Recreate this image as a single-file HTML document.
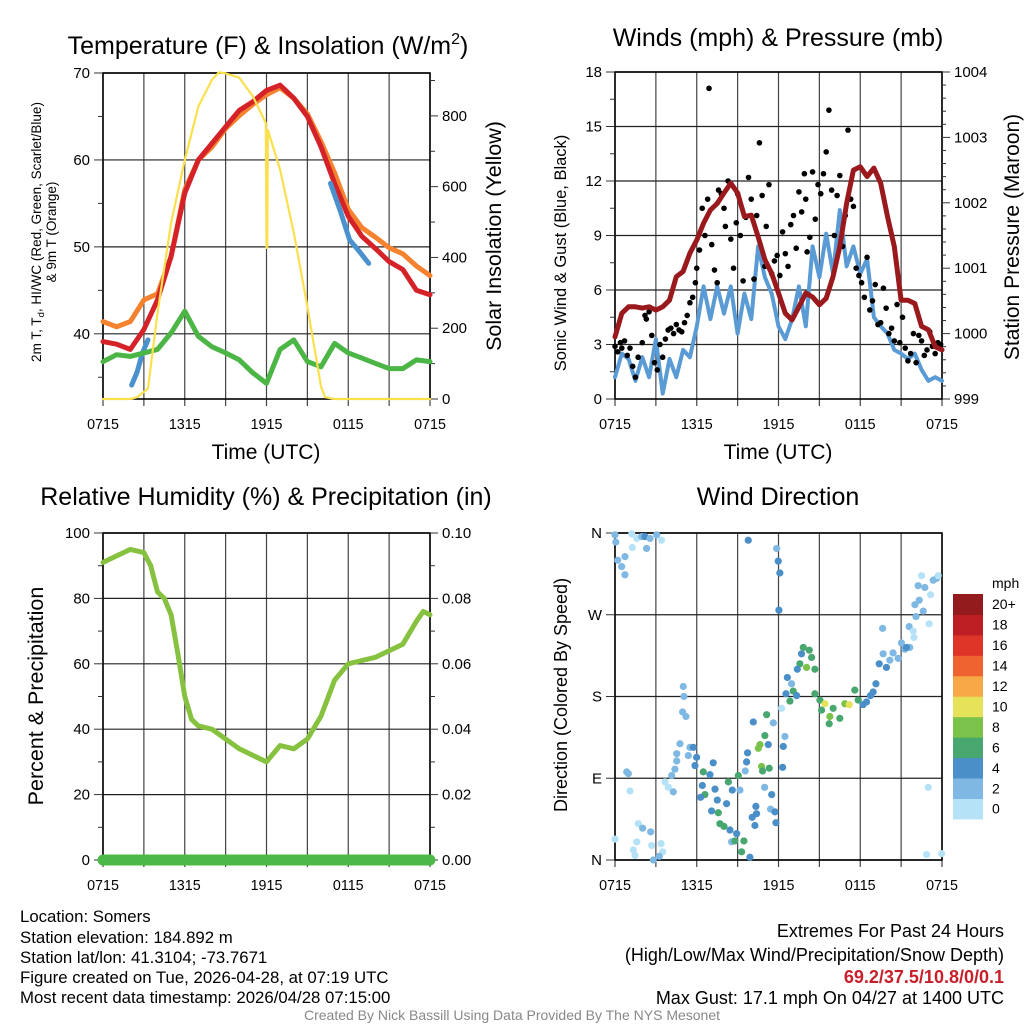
<!DOCTYPE html>
<html><head><meta charset="utf-8"><style>
body{margin:0;background:#fff;}
svg{display:block;font-family:"Liberation Sans",sans-serif;}
</style></head><body>
<svg id="c" width="1024" height="1024" viewBox="0 0 1024 1024">
<text x="268" y="54" font-size="25" text-anchor="middle">Temperature (F) &amp; Insolation (W/m<tspan dy="-10" font-size="16">2</tspan><tspan dy="10">)</tspan></text>
<text x="778" y="46" font-size="25" text-anchor="middle">Winds (mph) &amp; Pressure (mb)</text>
<text x="266" y="505" font-size="25" text-anchor="middle">Relative Humidity (%) &amp; Precipitation (in)</text>
<text x="778" y="505" font-size="25" text-anchor="middle">Wind Direction</text>
<text x="266" y="459" font-size="21" text-anchor="middle">Time (UTC)</text>
<text x="778" y="459" font-size="21" text-anchor="middle">Time (UTC)</text>
<text transform="translate(41,232) rotate(-90)" font-size="13.5" text-anchor="middle">2m T, T<tspan dy="3" font-size="9.5">d</tspan><tspan dy="-3">, HI/WC (Red, Green, Scarlet/Blue)</tspan></text>
<text transform="translate(56,232) rotate(-90)" font-size="13.5" text-anchor="middle">&amp; 9m T (Orange)</text>
<text transform="translate(501,236) rotate(-90)" font-size="21.5" text-anchor="middle">Solar Insolation (Yellow)</text>
<text transform="translate(566,253) rotate(-90)" font-size="16.5" text-anchor="middle">Sonic Wind &amp; Gust (Blue, Black)</text>
<text transform="translate(1019,237) rotate(-90)" font-size="21" text-anchor="middle">Station Pressure (Maroon)</text>
<text transform="translate(43,696) rotate(-90)" font-size="21.5" text-anchor="middle">Percent &amp; Precipitation</text>
<text transform="translate(567,695) rotate(-90)" font-size="18" text-anchor="middle">Direction (Colored By Speed)</text>
<g font-size="16.8">
<text x="20" y="922">Location: Somers</text>
<text x="20" y="943">Station elevation: 184.892 m</text>
<text x="20" y="963">Station lat/lon: 41.3104; -73.7671</text>
<text x="20" y="983">Figure created on Tue, 2026-04-28, at 07:19 UTC</text>
<text x="20" y="1003">Most recent data timestamp: 2026/04/28 07:15:00</text>
</g>
<g font-size="18" text-anchor="end">
<text x="1004" y="937">Extremes For Past 24 Hours</text>
<text x="1004" y="961">(High/Low/Max Wind/Precipitation/Snow Depth)</text>
<text x="1004" y="983" fill="#c8202a" font-weight="bold">69.2/37.5/10.8/0/0.1</text>
<text x="1004" y="1004">Max Gust: 17.1 mph On 04/27 at 1400 UTC</text>
</g>
<text x="512" y="1020" font-size="14" fill="#888" text-anchor="middle">Created By Nick Bassill Using Data Provided By The NYS Mesonet</text>
</svg>
<script>
// ---- data ----
const hourTicks=["0715","1315","1915","0115","0715"];
const tempHours=[0,1,2,3,4,5,6,7,8,9,10,11,12,13,14,15,16,17,18,19,20,21,22,23,24];
const temp2m=[39.1,38.8,38.2,40.5,43.9,48.9,56.2,60,61.9,63.8,65.7,66.7,68,68.6,67.1,65,61.5,57.3,53.5,51.2,49.8,48.3,47.4,45,44.5];
const temp9m=[41.4,40.8,41.4,43.9,44.6,48.9,56.6,60,61.5,63.6,65.1,66.4,67.5,68.3,67.1,65.3,62.1,58.5,54.3,52.2,51.1,49.9,49.2,47.8,46.7];
const dewpt=[36.8,37.6,37.4,37.8,38.2,40.1,42.6,39.7,38.5,37.8,37.0,35.5,34.3,38.2,39.3,36.8,36.2,38.9,37.8,37.2,36.6,36.0,36.0,37.0,36.8];
const wcHoursA=[2.1,2.5,2.9,3.3];
const wcA=[34.1,35.6,37.8,39.3];
const wcHoursB=[16.7,17.4,18.1,18.8,19.5];
const wcB=[57.3,54.2,50.8,49.5,48.1];
const insolHours=[0,2,2.5,3,3.3,4,5,6,7,8,8.5,9,10,11,11.95,12.0,12.05,12.1,13,14,15,16,16.3,17,24];
const insol=[0,0,5,20,30,243,498,676,827,902,923,920,908,855,780,427,427,760,648,470,261,35,5,0,0];
const halfHours=[0,0.5,1,1.5,2,2.5,3,3.5,4,4.5,5,5.5,6,6.5,7,7.5,8,8.5,9,9.5,10,10.5,11,11.5,12,12.5,13,13.5,14,14.5,15,15.5,16,16.5,17,17.5,18,18.5,19,19.5,20,20.5,21,21.5,22,22.5,23,23.5,24];
const windSpeed=[1.2,2.5,2.2,1.0,2.3,1.2,3.3,0.3,2.2,1.2,2.7,2.3,4.0,6.2,4.4,6.2,4.7,6.2,3.6,5.8,4.4,8.4,6.7,5.8,4.0,3.3,4.4,6.2,4.0,8.4,6.7,9.1,6.9,10.4,7.3,8.4,6.9,7.7,4.5,4.0,3.6,2.7,2.5,2.2,2.5,1.6,1.0,1.2,1.0];
const pressure=[999.95,1000.31,1000.41,1000.41,1000.39,1000.41,1000.36,1000.41,1000.51,1000.87,1000.95,1001.23,1001.43,1001.69,1001.89,1001.99,1002.15,1002.30,1002.15,1001.79,1001.81,1001.48,1001.13,1000.92,1000.62,1000.31,1000.21,1000.41,1000.62,1000.56,1000.44,1000.54,1000.87,1001.33,1001.99,1002.50,1002.55,1002.40,1002.53,1002.30,1001.79,1001.33,1000.51,1000.51,1000.46,1000.11,1000.06,999.80,999.75];
const gustHours=[0.0,0.2,0.4,0.5,0.7,0.9,1.1,1.3,1.5,1.7,2.0,2.2,2.3,2.5,2.7,2.9,3.1,3.3,3.5,3.7,3.9,4.1,4.3,4.5,4.7,4.9,5.1,5.3,5.5,5.7,5.9,6.0,6.2,6.4,6.6,6.8,6.9,7.1,7.3,7.5,7.6,7.8,8.0,8.1,8.3,8.5,8.7,8.9,9.0,9.2,9.4,9.6,9.8,10.0,10.2,10.4,10.6,10.8,11.0,11.1,11.3,11.5,11.7,11.9,12.1,12.3,12.5,12.7,12.9,13.1,13.3,13.5,13.7,13.9,14.0,14.1,14.3,14.5,14.7,14.9,15.1,15.3,15.5,15.7,15.9,16.1,16.3,16.5,16.7,16.9,17.1,17.3,17.5,17.7,17.9,18.1,18.3,18.5,18.7,18.9,19.1,19.3,19.5,19.7,19.9,20.1,20.3,20.5,20.7,20.9,21.1,21.3,21.5,21.7,21.9,22.1,22.3,22.5,22.7,22.9,23.1,23.3,23.5,23.7,23.9];
const gusts=[2.9,2.6,3.1,2.8,3.2,2.4,2.8,1.8,1.2,2.3,3.1,4.6,4.4,4.8,3.5,2.0,1.6,3.0,2.3,3.3,3.8,3.9,3.6,4.1,3.8,3.7,4.2,4.6,5.3,5.6,6.4,7.2,8.2,10.5,9.0,11.0,17.1,8.5,7.1,6.4,11.5,11.3,10.5,9.5,12.0,8.8,7.2,9.7,11.3,9.0,6.5,10.0,12.2,11.0,6.6,10.1,14.1,11.2,7.3,9.5,11.8,6.9,7.6,7.9,6.8,9.2,8.0,7.3,9.6,10.1,8.3,11.4,10.3,12.4,11.0,8.1,8.9,12.5,9.9,11.8,11.3,12.4,13.6,15.9,11.5,9.0,11.2,12.3,8.4,10.1,14.8,11.0,10.6,7.2,6.8,6.4,5.6,7.8,4.9,5.4,6.3,4.1,4.2,6.1,5.0,3.6,3.9,3.2,5.2,3.1,4.5,2.8,2.1,2.5,3.6,2.0,3.5,3.2,2.4,2.7,3.7,2.9,2.5,3.1,3.0];
const rhHours=[0,1,2,3,3.5,4,4.5,5,5.5,6,6.5,7,8,9,10,11,12,13,14,15,16,17,18,19,20,21,22,23,23.5,24];
const rh=[91,93,95,94,90,82,80,75,63,50,43,41,40,37,34,32,30,35,34,37,44,55,60,61,62,64,66,73,76,75];
const precipHours=[0,24];
const precip=[0,0];
const dirHours=[0,0.06,1.23,1.6,1.96,2.2,2.57,3.06,3.42,2.32,0.2,0.49,0.73,0.73,1.27,9.78,11.86,11.98,12.1,12.03,0,0.86,0.98,1.1,1.71,2.03,2.62,1.6,1.34,1.47,2.69,3.38,3.5,2.81,3.25,3.67,3.91,4.28,4.16,4.4,4.53,4.53,4.77,5.38,5.5,5.75,5.99,5.87,5.01,5.06,4.96,5.21,6.48,6.97,7.21,6.41,6.6,6.28,7.34,7.51,8.19,7.09,7.58,7.7,8.0,8.32,8.61,8.44,8.93,8.56,8.8,9.29,9.46,9.9,9.17,9.05,9.66,9.56,9.73,10.15,10.27,10.07,10.39,10.34,10.52,10.64,10.76,10.83,11.32,11.0,11.13,11.25,11.62,10.98,11.5,11.42,11.74,11.81,12.3,12.35,12.47,12.23,12.55,12.84,13.08,13.33,12.65,12.96,13.57,13.69,13.82,14.26,14.43,14.06,14.67,13.38,14.67,15.04,15.41,15.16,15.77,15.72,16.01,16.5,16.87,17.19,17.6,17.85,18.21,18.46,18.75,19.15,18.95,19.39,19.68,19.92,19.64,20.17,20.41,20.78,21.02,21.27,21.63,21.39,21.59,21.89,21.94,22.09,22.01,22.33,22.62,23.06,22.25,22.5,22.74,23.16,23.35,23.6,23.72,22.99,22.87,23.97];
const dirDeg=[358,350,359,354,356,356,354,358,352,343,330,323,334,314,344,352,343,329,316,275,23,97,95,76,40,35,31,20,11,5,16,18,9,0,4,86,80,75,93,100,109,117,128,115,124,124,113,104,191,180,163,158,97,94,107,82,72,69,78,66,62,54,52,40,37,86,77,33,29,20,21,9,21,3,77,93,108,98,118,152,38,47,51,59,123,127,103,98,101,137,160,127,151,80,72,56,53,41,102,125,136,167,183,175,186,181,201,194,216,227,234,231,223,212,210,210,183,176,172,165,158,150,167,156,172,171,187,176,171,174,181,194,185,216,227,212,255,220,228,222,239,232,234,234,257,252,245,268,281,286,274,260,302,313,300,292,308,310,313,80,6,7];
const dirSpeed=[3,3,1,1,3,5,3,3,1,3,3,3,3,3,1,5,3,5,5,5,1,3,3,1,1,3,3,1,1,1,1,1,1,3,3,1,1,3,3,3,3,3,3,3,3,5,5,5,3,3,3,3,7,5,5,5,7,5,5,5,5,5,7,7,7,7,5,5,5,3,7,7,7,5,3,7,5,3,5,5,5,5,5,5,9,9,9,7,7,7,7,5,3,3,5,3,5,5,5,5,3,1,5,7,7,5,5,3,7,5,7,7,7,9,7,5,7,7,11,7,9,7,7,7,9,11,7,7,5,5,5,5,5,5,3,5,3,3,3,3,3,3,3,5,3,1,1,3,3,3,3,1,3,1,3,1,3,3,1,1,1,1];
const cbLabels=["0","2","4","6","8","10","12","14","16","18","20+"];
const cbColors=["#b5e2f7","#7fb8e3","#4a8fc7","#48a66f","#7bc24a","#e6e35a","#f6a946","#ef6330","#de3528","#bc1e24","#931a1d"];

// ---- drawing ----
const NS="http://www.w3.org/2000/svg";
const svg=document.getElementById('c');
function mk(tag,attrs,parent){const e=document.createElementNS(NS,tag);for(const k in attrs)e.setAttribute(k,attrs[k]);(parent||svg).appendChild(e);return e;}
function panel(x0,x1,y0,y1){return {x0,x1,y0,y1,xs:h=>x0+h*(x1-x0)/24};}
function lin(d0,d1,p0,p1){return v=>p0+(v-d0)*(p1-p0)/(d1-d0);}
function txt(x,y,s,anchor,size,parent){const t=mk('text',{x:x,y:y,'font-size':size||13,'text-anchor':anchor||'middle'},parent);t.textContent=s;return t;}

function frame(P,name,hLines){
  const g=mk('g',{});
  
  
  for(let i=0;i<=8;i++){const x=P.xs(i*3);
    mk('line',{x1:x,x2:x,y1:P.y0,y2:P.y1+7,stroke:'#444','stroke-width':1.2},g);}
  hLines.forEach(y=>mk('line',{x1:P.x0,x2:P.x1,y1:y,y2:y,stroke:'#222','stroke-width':1.2},g));
  mk('rect',{x:P.x0,y:P.y0,width:P.x1-P.x0,height:P.y1-P.y0,fill:'none',stroke:'#000','stroke-width':1.6},g);
  hourTicks.forEach((s,i)=>{txt(P.xs(i*6),P.y1+30,s,'middle',14.3,g);});
  return g;
}
function yTicks(P,g,scale,vals,labels,side,len){
  vals.forEach((v,i)=>{const y=scale(v);
    if(side==='l'){mk('line',{x1:P.x0-len,x2:P.x0,y1:y,y2:y,stroke:'#333','stroke-width':1},g);
      if(labels&&labels[i]!=null)txt(P.x0-13,y+5,labels[i],'end',15,g);}
    else{mk('line',{x1:P.x1,x2:P.x1+len,y1:y,y2:y,stroke:'#333','stroke-width':1},g);
      if(labels&&labels[i]!=null)txt(P.x1+12,y+5,labels[i],'start',15,g);}
  });
}
function path(P,xsArr,ysArr,sx,sy,attrs,name){
  const d=xsArr.map((h,i)=>(i?'L':'M')+P.xs(h).toFixed(1)+','+sy(ysArr[i]).toFixed(1)).join('');
  const p=mk('path',Object.assign({d:d,fill:'none','stroke-linejoin':'round','stroke-linecap':'round'},attrs));
  
  
  return p;
}

// Panel 1
const P1=panel(103,430,73,399);
const t1=lin(70,32.5,73,399), s1=lin(0,924,399,72);
const g1=frame(P1,'temp',[40,50,60,70].map(t1));
yTicks(P1,g1,t1,[40,50,60,70],["40","50","60","70"],'l',9);
yTicks(P1,g1,t1,[35,45,55,65],null,'l',5);
yTicks(P1,g1,s1,[0,200,400,600,800],["0","200","400","600","800"],'r',8);
yTicks(P1,g1,s1,[100,300,500,700,900],null,'r',5);
path(P1,tempHours,temp9m,P1.xs,t1,{stroke:'#f4822f','stroke-width':5},'temp-9m-line');
path(P1,tempHours,temp2m,P1.xs,t1,{stroke:'#d42228','stroke-width':5},'temp-2m-line');
path(P1,wcHoursA,wcA,P1.xs,t1,{stroke:'#4b91cd','stroke-width':5},'windchill-line-a');
path(P1,wcHoursB,wcB,P1.xs,t1,{stroke:'#4b91cd','stroke-width':5},'windchill-line-b');
path(P1,tempHours,dewpt,P1.xs,t1,{stroke:'#4bb545','stroke-width':5},'dewpoint-line');
path(P1,insolHours,insol,P1.xs,s1,{stroke:'#fbe04e','stroke-width':2.2},'insolation-line');

// Panel 2
const P2=panel(615,942,72,399);
const w2=lin(0,18,399,72), p2=lin(999,1004,399,72);
const g2=frame(P2,'wind',[3,6,9,12,15,18].map(w2));
yTicks(P2,g2,w2,[0,3,6,9,12,15,18],["0","3","6","9","12","15","18"],'l',9);
yTicks(P2,g2,w2,[1.5,4.5,7.5,10.5,13.5,16.5],null,'l',5);
yTicks(P2,g2,p2,[999,1000,1001,1002,1003,1004],["999","1000","1001","1002","1003","1004"],'r',8);
for(let k=0;k<25;k++){if(k%5)yTicks(P2,g2,p2,[999+k*0.2],null,'r',4);}
path(P2,halfHours,windSpeed,P2.xs,w2,{stroke:'#5a9bd5','stroke-width':4},'wind-speed-line');
const gg=mk('g',{});
gustHours.forEach((h,i)=>{const c=mk('circle',{cx:P2.xs(h),cy:w2(gusts[i]),r:2.8,fill:'#000'},gg);

});
path(P2,halfHours,pressure,P2.xs,p2,{stroke:'#99191c','stroke-width':5},'pressure-line');

// Panel 3
const P3=panel(103,430,533,860);
const r3=lin(0,100,860,533);
const g3=frame(P3,'rh',[20,40,60,80,100].map(r3));
yTicks(P3,g3,r3,[0,20,40,60,80,100],["0","20","40","60","80","100"],'l',9);
yTicks(P3,g3,r3,[10,30,50,70,90],null,'l',5);
yTicks(P3,g3,r3,[0,20,40,60,80,100],["0.00","0.02","0.04","0.06","0.08","0.10"],'r',8);
yTicks(P3,g3,r3,[10,30,50,70,90],null,'r',5);
path(P3,rhHours,rh,P3.xs,r3,{stroke:'#86c240','stroke-width':5},'rh-line');
const pr3=lin(0,0.1,860,533);
path(P3,precipHours,precip,P3.xs,pr3,{stroke:'#4cb848','stroke-width':11},'precip-line');

// Panel 4
const P4=panel(615,942,533,860);
const d4=lin(0,360,860,533);
const g4=frame(P4,'dir',[0,90,180,270,360].map(d4));
yTicks(P4,g4,d4,[0,90,180,270,360],["N","E","S","W","N"],'l',9);
const gd=mk('g',{});
dirHours.forEach((h,i)=>{const bin=Math.min(10,Math.floor(dirSpeed[i]/2));
const c=mk('circle',{cx:P4.xs(h),cy:d4(dirDeg[i]),r:3.6,fill:cbColors[bin]},gd);

});

// Colorbar
const gc=mk('g',{});
const cbTop=594, cbH=20.45;
cbLabels.forEach((l,i)=>{const y=cbTop+(10-i)*cbH;
const r=mk('rect',{x:953,y:y,width:30,height:cbH+0.5,fill:cbColors[i]},gc);


txt(992,y+cbH/2+5,l,'start',14,gc);});
txt(992,588,'mph','start',14,gc);
</script>
</body></html>
